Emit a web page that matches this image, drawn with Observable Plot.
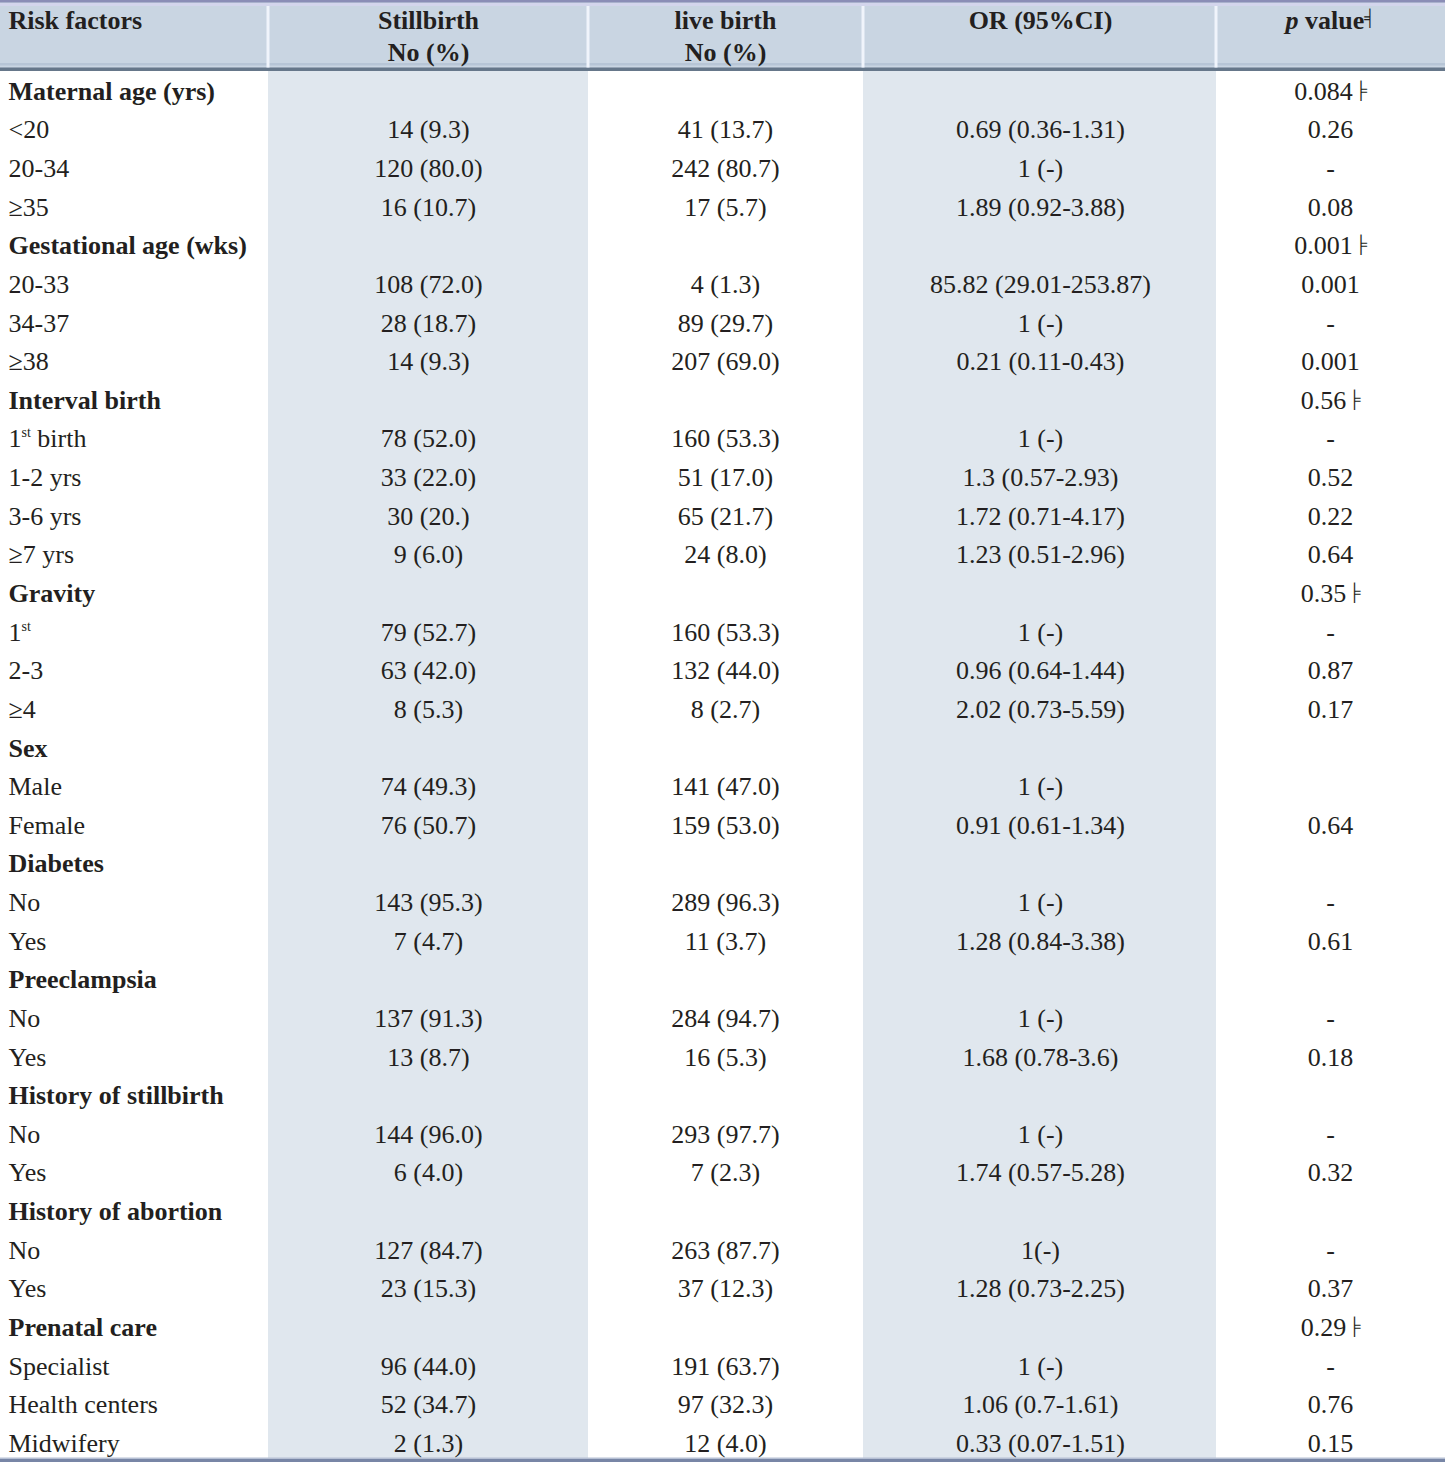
<!DOCTYPE html>
<html><head><meta charset="utf-8">
<script src="https://cdn.jsdelivr.net/npm/d3@7"></script>
<script src="https://cdn.jsdelivr.net/npm/@observablehq/plot@0.6"></script>
<style>html,body{margin:0;padding:0;background:#fff}svg{display:block}</style>
</head><body><div id="chart"></div>
<script>
// ---------- DATA ----------
const headers = ["Risk factors", "Stillbirth\nNo (%)", "live birth\nNo (%)", "OR (95%CI)", "p value╡"];

const groupNames = ["Maternal age (yrs)", "Gestational age (wks)", "Interval birth", "Gravity", "Sex",
  "Diabetes", "Preeclampsia", "History of stillbirth", "History of abortion", "Prenatal care"];

const rowLabels = [
  "Maternal age (yrs)", "<20", "20-34", "≥35",
  "Gestational age (wks)", "20-33", "34-37", "≥38",
  "Interval birth", "1st birth", "1-2 yrs", "3-6 yrs", "≥7 yrs",
  "Gravity", "1st", "2-3", "≥4",
  "Sex", "Male", "Female",
  "Diabetes", "No", "Yes",
  "Preeclampsia", "No", "Yes",
  "History of stillbirth", "No", "Yes",
  "History of abortion", "No", "Yes",
  "Prenatal care", "Specialist", "Health centers", "Midwifery"
];

const stillbirth = [
  "", "14 (9.3)", "120 (80.0)", "16 (10.7)",
  "", "108 (72.0)", "28 (18.7)", "14 (9.3)",
  "", "78 (52.0)", "33 (22.0)", "30 (20.)", "9 (6.0)",
  "", "79 (52.7)", "63 (42.0)", "8 (5.3)",
  "", "74 (49.3)", "76 (50.7)",
  "", "143 (95.3)", "7 (4.7)",
  "", "137 (91.3)", "13 (8.7)",
  "", "144 (96.0)", "6 (4.0)",
  "", "127 (84.7)", "23 (15.3)",
  "", "96 (44.0)", "52 (34.7)", "2 (1.3)"
];

const liveBirth = [
  "", "41 (13.7)", "242 (80.7)", "17 (5.7)",
  "", "4 (1.3)", "89 (29.7)", "207 (69.0)",
  "", "160 (53.3)", "51 (17.0)", "65 (21.7)", "24 (8.0)",
  "", "160 (53.3)", "132 (44.0)", "8 (2.7)",
  "", "141 (47.0)", "159 (53.0)",
  "", "289 (96.3)", "11 (3.7)",
  "", "284 (94.7)", "16 (5.3)",
  "", "293 (97.7)", "7 (2.3)",
  "", "263 (87.7)", "37 (12.3)",
  "", "191 (63.7)", "97 (32.3)", "12 (4.0)"
];

const oddsRatio = [
  "", "0.69 (0.36-1.31)", "1 (-)", "1.89 (0.92-3.88)",
  "", "85.82 (29.01-253.87)", "1 (-)", "0.21 (0.11-0.43)",
  "", "1 (-)", "1.3 (0.57-2.93)", "1.72 (0.71-4.17)", "1.23 (0.51-2.96)",
  "", "1 (-)", "0.96 (0.64-1.44)", "2.02 (0.73-5.59)",
  "", "1 (-)", "0.91 (0.61-1.34)",
  "", "1 (-)", "1.28 (0.84-3.38)",
  "", "1 (-)", "1.68 (0.78-3.6)",
  "", "1 (-)", "1.74 (0.57-5.28)",
  "", "1(-)", "1.28 (0.73-2.25)",
  "", "1 (-)", "1.06 (0.7-1.61)", "0.33 (0.07-1.51)"
];

const pValue = [
  "0.084╞", "0.26", "-", "0.08",
  "0.001╞", "0.001", "-", "0.001",
  "0.56╞", "-", "0.52", "0.22", "0.64",
  "0.35╞", "-", "0.87", "0.17",
  "", "", "0.64",
  "", "-", "0.61",
  "", "-", "0.18",
  "", "-", "0.32",
  "", "-", "0.37",
  "0.29╞", "-", "0.76", "0.15"
];

// ---------- LAYOUT (not data) ----------
const W = 1445, H = 1462;
const colEdges = [0, 268, 588, 863, 1216, W];
const colX = [8, 428, 725, 1040, 1330];
const firstRowY = 91, rowStep = (1443 - 91) / 35;
const px2row = (p) => (p - firstRowY) / rowStep;
const textColor = "#231f20";

const decor = [
  {x1: 0, x2: W, y1: px2row(0), y2: px2row(68), fill: "#c9d5e2"},
  {x1: colEdges[1], x2: colEdges[2], y1: px2row(70), y2: px2row(1459), fill: "#e0e7ee"},
  {x1: colEdges[3], x2: colEdges[4], y1: px2row(70), y2: px2row(1459), fill: "#e0e7ee"},
  {x1: 0, x2: W, y1: px2row(0), y2: px2row(2.5), fill: "#8a8db6"},
  {x1: 0, x2: W, y1: px2row(3), y2: px2row(6), fill: "#d3d5ec"},
  {x1: 0, x2: W, y1: px2row(63), y2: px2row(65.5), fill: "#b7c5d6"},
  {x1: 0, x2: W, y1: px2row(67.5), y2: px2row(71), fill: "#66778a"},
  {x1: 0, x2: W, y1: px2row(1457.5), y2: px2row(1459), fill: "#b6c0d4"},
  {x1: 0, x2: W, y1: px2row(1459), y2: px2row(H), fill: "#7886a6"},
  ...colEdges.slice(1, 5).map(e => ({x1: e - 1.5, x2: e + 1.5, y1: px2row(6), y2: px2row(67.5), fill: "#f0f4fb"}))
];

const rows = rowLabels.map((label, i) => ({i, label, group: groupNames.includes(label)}));
const cells = [];
rowLabels.forEach((_, i) => {
  [stillbirth, liveBirth, oddsRatio, pValue].forEach((arr, c) => {
    if (arr[i] !== "") cells.push({i, c: c + 1, text: arr[i]});
  });
});
const headerCells = headers.map((h, c) => ({c, text: h}));

const headerStyle = {
  y: px2row(6), text: "text", lineAnchor: "top", lineHeight: 32 / 26,
  fontSize: 26, fontWeight: "bold", fill: textColor
};

const chart = Plot.plot({
  width: W, height: H,
  marginTop: 0, marginRight: 0, marginBottom: 0, marginLeft: 0,
  x: {domain: [0, W], range: [0, W], axis: null},
  y: {domain: [px2row(0), px2row(H)], range: [0, H], axis: null},
  style: {fontFamily: "'Liberation Serif', 'DejaVu Serif', serif", color: textColor, background: "#fff", overflow: "visible"},
  marks: [
    Plot.rect(decor, {x1: "x1", x2: "x2", y1: "y1", y2: "y2", fill: "fill"}),
    Plot.text(headerCells.filter(d => d.c === 0), {...headerStyle, x: colX[0], textAnchor: "start"}),
    Plot.text(headerCells.filter(d => d.c > 0), {...headerStyle, x: d => colX[d.c], textAnchor: "middle"}),
    Plot.text(rows.filter(d => d.group), {
      x: colX[0], y: "i", text: "label", textAnchor: "start",
      fontSize: 26, fontWeight: "bold", fill: textColor
    }),
    Plot.text(rows.filter(d => !d.group), {
      x: colX[0], y: "i", text: "label", textAnchor: "start",
      fontSize: 26, fill: textColor
    }),
    Plot.text(cells, {
      x: d => colX[d.c], y: "i", text: "text", textAnchor: "middle",
      fontSize: 26, fill: textColor
    })
  ]
});

document.getElementById("chart").appendChild(chart);

const svg = d3.select(chart);
svg.selectAll("text").each(function () {
  if (this.querySelector("tspan")) return;
  const t = d3.select(this);
  const s = this.textContent;
  let m;
  if ((m = s.match(/^1st(.*)$/))) {
    t.text("1");
    t.append("tspan").attr("font-size", 14).attr("dy", -10).text("st");
    if (m[1]) t.append("tspan").attr("dy", 10).text(m[1]);
  } else if ((m = s.match(/^(.*)╞$/))) {
    t.text(m[1]);
    t.append("tspan").attr("font-size", 17).attr("dy", -4).attr("dx", 2).text("╞");
  } else if (s === "p value╡") {
    t.text("");
    t.append("tspan").attr("font-style", "italic").text("p");
    t.append("tspan").text(" value");
    t.append("tspan").attr("font-size", 16).attr("dy", -6).text("╡");
  }
});
</script>
</body></html>
